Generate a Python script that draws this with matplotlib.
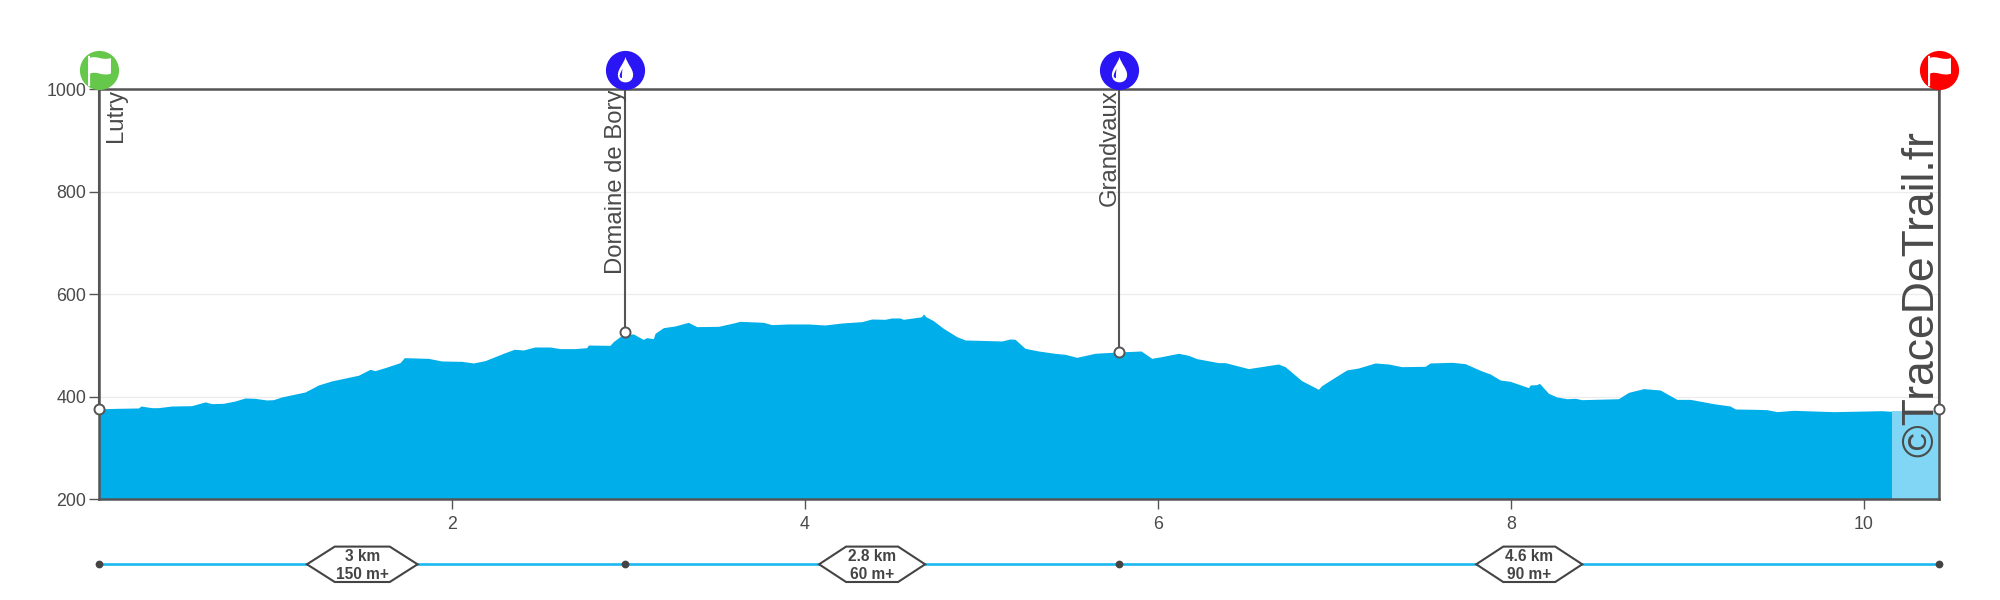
import matplotlib
matplotlib.use("Agg")
import matplotlib.pyplot as plt
from matplotlib.path import Path
from matplotlib.patches import Polygon

plt.rcParams['font.family'] = ['Liberation Sans', 'DejaVu Sans']

km = [0, .10, .221, .236, .296, .334, .41, .523, .599, .637, .703, .769, .826, .882, .948, .986, 1.033, 1.166,
      1.241, 1.317, 1.43, 1.468, 1.534, 1.562, 1.619, 1.676, 1.704, 1.729, 1.865, 1.94, 2.054, 2.12, 2.186, 2.3,
      2.352, 2.403, 2.469, 2.554, 2.611, 2.696, 2.762, 2.772, 2.894, 2.913, 2.951, 2.981, 3.027, 3.083, 3.102, 3.14,
      3.15, 3.197, 3.263, 3.338, 3.386, 3.509, 3.603, 3.631, 3.764, 3.811, 3.905, 4.019, 4.113, 4.208, 4.321, 4.378,
      4.453, 4.491, 4.538, 4.557, 4.652, 4.661, 4.671, 4.684, 4.727, 4.784, 4.86, 4.907, 5.115, 5.162, 5.19, 5.247,
      5.323, 5.417, 5.474, 5.54, 5.644, 5.776, 5.905, 5.965, 6.022, 6.116, 6.173, 6.22, 6.343, 6.381, 6.513, 6.683,
      6.721, 6.815, 6.91, 6.929, 6.985, 7.07, 7.137, 7.231, 7.307, 7.382, 7.515, 7.543, 7.666, 7.741, 7.836, 7.884,
      7.94, 7.997, 8.101, 8.11, 8.148, 8.163, 8.214, 8.262, 8.318, 8.366, 8.403, 8.611, 8.668, 8.753, 8.847, 8.942,
      9.017, 9.15, 9.244, 9.273, 9.395, 9.452, 9.509, 9.603, 9.83, 10.104, 10.161]
elevation = [376.5, 377.5, 378.2, 382, 378.8, 378.8, 382, 382.7, 390, 386.6, 387.3, 391.8, 397.7, 397, 393.8, 394.4,
             399.7, 409.4, 423, 431, 439.3, 442, 453.6, 451, 456.9, 463.4, 466.6, 476.4, 475, 469.9, 469.2, 466,
             470.6, 486.2, 492.7, 491.4, 497.2, 497.2, 494, 494, 495.9, 501, 500.4, 507.6, 517.4, 521.9, 522.6, 512,
             515.4, 513.5, 523.9, 534.9, 538.2, 545.3, 536.9, 537.5, 544.7, 547.3, 545.3, 540.8, 542.1, 542.1, 540.1,
             544, 546.6, 551.8, 551.2, 553.8, 553.8, 551.2, 555.7, 556.4, 561.6, 556.4, 548.6, 533.6, 517.4, 510.9,
             508.9, 512.8, 512.2, 494.6, 489.4, 484.8, 482.9, 477, 484.9, 487.5, 489.4, 475.1, 478.4, 484.9, 481,
             474.5, 466.7, 466.7, 455, 464, 458.8, 431.5, 414.6, 421.8, 434.1, 452.3, 456.2, 466, 464, 458.8, 459.5,
             466, 467.3, 464.7, 450.4, 444.5, 432.8, 430.2, 417.8, 423, 423.7, 426.3, 406.8, 399.6, 396.3, 397, 394.4,
             396.3, 408.7, 415.9, 413.3, 395, 395, 386.6, 382, 376.2, 375.5, 374.9, 371, 373.6, 371, 372.9, 371.6]
last_km = [10.161, 10.43]
last_elevation = [371.6, 371.6]

waypoint_km = [0, 2.98, 5.78, 10.43]
waypoint_elev = [376, 526.5, 488, 376]
waypoint_names = ["Lutry", "Domaine de Bory", "Grandvaux", ""]
section_km = ["3 km", "2.8 km", "4.6 km"]
section_gain = ["150 m+", "60 m+", "90 m+"]
xticks = [2, 4, 6, 8, 10]
yticks = [200, 400, 600, 800, 1000]

W, H = 2000, 600
DARK = "#555555"
TXT = "#4a4a4a"
fig = plt.figure(figsize=(20, 6), dpi=100)
L, R, T, B = 99.4, 1939.4, 89.3, 499.3
ax = fig.add_axes([L / W, 1 - B / H, (R - L) / W, (B - T) / H])
ax.set_xlim(0, 10.43)
ax.set_ylim(200, 1000)
pxkm = (R - L) / 10.43

ax.set_axisbelow(True)
ax.grid(axis='y', color="#ececec", lw=0.9)
ax.fill_between(km, elevation, 200, color="#00AEEA", lw=0)
ax.fill_between(last_km, last_elevation, 200, color="#80D6F4", lw=0)

for s in ax.spines.values():
    s.set_color(DARK)
    s.set_linewidth(1.8)
ax.set_xticks(xticks)
ax.set_yticks(yticks)
ax.tick_params(axis='x', length=7, width=1, color=DARK, labelsize=12.8, labelcolor=TXT, pad=5)
ax.tick_params(axis='y', length=7.5, width=1, color=DARK, labelsize=12.8, labelcolor=TXT, pad=2)

# watermark
ax.text(1933.5 / W, 1 - 457 / H, "©TraceDeTrail.fr", transform=fig.transFigure, rotation=90,
        ha='left', va='baseline', rotation_mode='anchor', fontsize=32, color=TXT, zorder=5)

# icons
C4, L2, M, Z = Path.CURVE4, Path.LINETO, Path.MOVETO, Path.CLOSEPOLY
flag = Path(
    [(-11, -15), (-11, 14), (-9, 14), (-9, 12), (-4, 15), (3, 9), (11, 12), (11, -3), (3, -6), (-3, 0), (-9, -3),
     (-9, -15), (-11, -15)],
    [M, L2, L2, L2, C4, C4, C4, L2, C4, C4, C4, L2, Z])
drop = Path(
    [(0, 16), (-2, 8), (-9, 2), (-9, -5), (-9, -11), (-5, -14), (0, -14), (5, -14), (9, -11), (9, -5), (9, 2), (2, 8),
     (0, 16), (0, 16)],
    [M] + [C4] * 12 + [Z])
inner = Path(
    [(0, 7), (-2, 2), (-5, -2), (-5, -6), (-5, -9), (-3, -10), (-1, -10), (-1, -6), (-1, 0), (0, 7), (0, 7)],
    [M] + [C4] * 9 + [Z])

xf = ax.get_xaxis_transform()
icon_y = (B - 70) / (B - T)
icon_colors = ["#66C84A", "#2A16F5", "#2A16F5", "#FF0000"]
for i, x in enumerate(waypoint_km):
    ax.plot([x], [icon_y], 'o', ms=28.2, mew=0, color=icon_colors[i], transform=xf, clip_on=False, zorder=6)
    if i in (0, 3):
        ax.plot([x], [icon_y], marker=flag, ms=22.5, mew=0, color="white", transform=xf, clip_on=False, zorder=7)
    else:
        ax.plot([x], [icon_y], marker=drop, ms=19.5, mew=0, color="white", transform=xf, clip_on=False, zorder=7)
        ax.plot([x - 3 / pxkm], [icon_y - 2 / (B - T)], marker=inner, ms=8, mew=0, color=icon_colors[i],
                transform=xf, clip_on=False, zorder=8)
    ax.plot([x, x], [waypoint_elev[i], 1000], color=DARK, lw=1.5, zorder=4, clip_on=False)
    ax.plot([x], [waypoint_elev[i]], 'o', ms=7.2, mfc="white", mec=DARK, mew=1.4, clip_on=False, zorder=6)

# waypoint names: rotated text, baseline a fixed distance from the waypoint line
offsets = [23 / 1.389, -3 / 1.389, -3 / 1.389]
for x, name, off in zip(waypoint_km, waypoint_names, offsets):
    ax.annotate(name, (x, 1000), xytext=(off, 0), textcoords='offset points', rotation=90,
                ha='right', va='baseline', rotation_mode='anchor', fontsize=17.2, color=TXT, zorder=5)

# section strip
ST, SB = 540.0, 590.0
sx = fig.add_axes([L / W, 1 - SB / H, (R - L) / W, (SB - ST) / H])
sx.set_xlim(0, 10.43)
sx.set_ylim(SB, ST)
sx.axis('off')
sy = 564.3
sx.plot([waypoint_km[0], waypoint_km[-1]], [sy, sy], color="#1AB8EE", lw=1.9, zorder=1, clip_on=False)
sx.plot(waypoint_km, [sy] * len(waypoint_km), 'o', ms=5.6, color="#444444", mew=0, zorder=2, clip_on=False)
half_w = [55.3, 53, 53]
half_f = [27.5, 26, 26]
for i in range(3):
    c = (waypoint_km[i] + waypoint_km[i + 1]) / 2
    hw, hf = half_w[i] / pxkm, half_f[i] / pxkm
    sx.add_patch(Polygon([(c - hw, sy), (c - hf, sy - 17.7), (c + hf, sy - 17.7), (c + hw, sy), (c + hf, sy + 17.7),
                          (c - hf, sy + 17.7)], closed=True, fc="white", ec="#444444", lw=1.5, zorder=3,
                         clip_on=False))
    sx.text(c, sy - 7.6, section_km[i], ha='center', va='center', fontsize=11.2, fontweight='bold', color="#444444",
            zorder=4)
    sx.text(c, sy + 10.5, section_gain[i], ha='center', va='center', fontsize=11.2, fontweight='bold', color="#444444",
            zorder=4)

fig.savefig("out.png", dpi=100, facecolor="white")
